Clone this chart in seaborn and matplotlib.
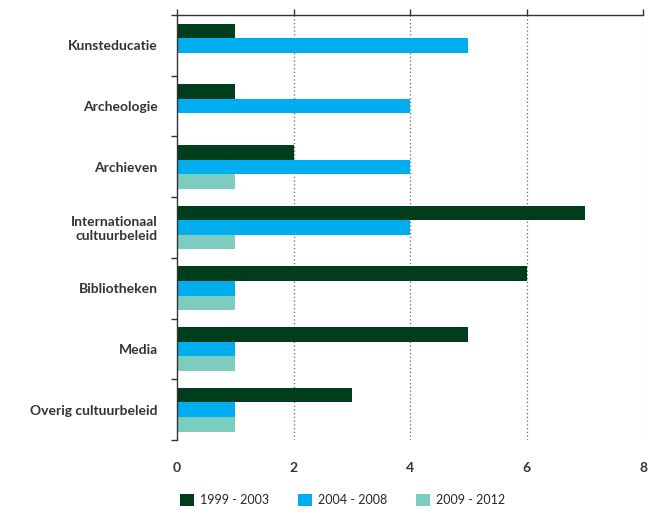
import matplotlib
matplotlib.use("Agg")
import matplotlib.pyplot as plt
import seaborn as sns
import pandas as pd
import numpy as np

categories = ["Kunsteducatie", "Archeologie", "Archieven", "Internationaal\ncultuurbeleid",
              "Bibliotheken", "Media", "Overig cultuurbeleid"]
periods = ["1999 - 2003", "2004 - 2008", "2009 - 2012"]
v_1999_2003 = [1, 1, 2, 7, 6, 5, 3]
v_2004_2008 = [5, 4, 4, 4, 1, 1, 1]
v_2009_2012 = [0, 0, 1, 1, 1, 1, 1]
colors = ["#003d1c", "#00aeef", "#7ccdbf"]
x_ticks = [0, 2, 4, 6, 8]

rows = []
for p, vals in zip(periods, [v_1999_2003, v_2004_2008, v_2009_2012]):
    for c, v in zip(categories, vals):
        rows.append({"cat": c, "period": p, "value": v})
df = pd.DataFrame(rows)

sns.set_theme(style="white")
plt.rcParams["font.family"] = ["Lato", "DejaVu Sans"]

fig = plt.figure(figsize=(6.67, 5.13), dpi=100)
ax = fig.add_axes([177/667, 1-440/513, (643-177)/667, (440-15)/513])

sns.barplot(data=df, y="cat", x="value", hue="period", order=categories,
            hue_order=periods, palette=colors, orient="h", width=0.72,
            saturation=1, ax=ax, legend=True, linewidth=0)

ax.set_xlim(0, 8)
ax.set_ylim(len(categories) - 0.5, -0.5)
ax.set_xticks(x_ticks)
ax.set_xticklabels([str(t) for t in x_ticks], fontweight="bold", color="#333333", fontsize=10)
ax.set_xlabel("")
ax.set_ylabel("")
for t in x_ticks[1:]:
    ax.axvline(t, color="#666666", linestyle=(0, (1, 2)), linewidth=0.9, zorder=0)

for s in ["right", "bottom"]:
    ax.spines[s].set_visible(False)
for s in ["top", "left"]:
    ax.spines[s].set_color("#333333")
    ax.spines[s].set_linewidth(1.0)

ax.tick_params(axis="x", top=True, bottom=False, labeltop=False, labelbottom=True,
               direction="out", length=4, width=1, color="#333333", pad=12)
ax.set_yticks(range(len(categories)))
ax.set_yticklabels(categories, fontweight="bold", color="#333333", fontsize=10)
ax.tick_params(axis="y", which="major", left=False, pad=8)
ax.set_yticks(np.arange(-0.5, len(categories), 1), minor=True)
ax.tick_params(axis="y", which="minor", left=True, length=4, width=1, color="#333333")

handles, labels = ax.get_legend_handles_labels()
ax.get_legend().remove()
fig.legend(handles, labels, loc="center", bbox_to_anchor=(343/667, 1-500/513), ncol=3,
           frameon=False, handlelength=1.1, handleheight=1.1, handletextpad=0.5,
           columnspacing=2.3, prop={"family": ["Lato"], "size": 9})

fig.savefig("out.png", dpi=100)
